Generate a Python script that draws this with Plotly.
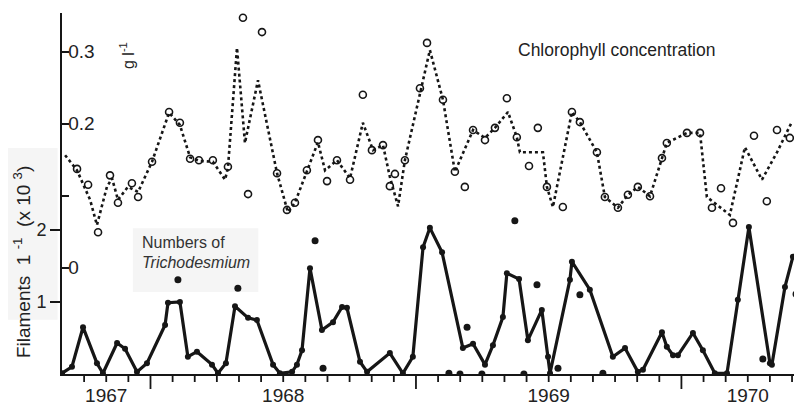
import plotly.graph_objects as go

# ---------------- data (x = months from start of record) ----------------
chl_line_month = [0.14, 0.68, 1.27, 1.58, 2.03, 2.26, 2.53, 2.98, 3.44, 4.07, 4.84, 5.33, 5.79, 6.24,
                  6.82, 7.37, 7.50, 7.91, 8.27, 8.86, 9.72, 10.21, 10.53, 11.07, 11.57, 11.89, 12.43,
                  13.02, 13.60, 14.06, 14.51, 14.82, 14.96, 15.19, 15.50, 16.63, 17.22, 17.76, 18.58,
                  19.12, 19.57, 20.16, 20.56, 20.70, 21.74, 21.92, 22.19, 23.05, 23.41, 24.18, 24.54,
                  25.13, 25.58, 26.03, 26.58, 27.12, 27.34, 28.25, 28.84, 29.15, 30.19, 30.87, 31.64,
                  32.32, 32.99]
chl_line_value = [0.156, 0.135, 0.094, 0.059, 0.112, 0.124, 0.094, 0.112, 0.105, 0.147, 0.215, 0.198,
                  0.153, 0.148, 0.147, 0.122, 0.138, 0.305, 0.173, 0.260, 0.131, 0.077, 0.090, 0.135,
                  0.174, 0.135, 0.149, 0.124, 0.201, 0.163, 0.170, 0.126, 0.110, 0.085, 0.149, 0.302,
                  0.233, 0.133, 0.191, 0.180, 0.194, 0.216, 0.181, 0.160, 0.160, 0.112, 0.084, 0.216,
                  0.202, 0.160, 0.098, 0.083, 0.101, 0.112, 0.099, 0.152, 0.173, 0.187, 0.187, 0.098,
                  0.073, 0.167, 0.122, 0.160, 0.202]

chl_obs_month = [0.68, 1.18, 1.63, 2.17, 2.53, 3.16, 3.44, 4.07, 4.84, 5.33, 5.79, 6.19, 6.82, 7.50,
                 8.18, 8.41, 9.04, 9.72, 10.17, 10.53, 11.07, 11.57, 11.98, 12.43, 13.02, 13.60, 14.01,
                 14.51, 14.82, 15.05, 15.50, 16.18, 16.50, 17.22, 17.76, 18.21, 18.58, 19.12, 19.57,
                 20.11, 20.56, 21.11, 21.51, 21.92, 22.64, 23.05, 23.41, 24.18, 24.54, 25.13, 25.58,
                 26.03, 26.58, 27.12, 27.34, 28.25, 28.84, 29.38, 29.79, 30.33, 31.28, 31.86, 32.32,
                 32.90, 33.31]
chl_obs_value = [0.137, 0.115, 0.049, 0.128, 0.090, 0.117, 0.098, 0.147, 0.216, 0.201, 0.151, 0.149,
                 0.149, 0.140, 0.347, 0.102, 0.327, 0.131, 0.080, 0.090, 0.135, 0.177, 0.120, 0.149,
                 0.122, 0.240, 0.163, 0.170, 0.113, 0.130, 0.149, 0.249, 0.312, 0.233, 0.133, 0.112,
                 0.191, 0.177, 0.194, 0.235, 0.181, 0.141, 0.194, 0.112, 0.084, 0.216, 0.202, 0.160,
                 0.098, 0.083, 0.101, 0.112, 0.099, 0.152, 0.173, 0.187, 0.187, 0.083, 0.110, 0.062,
                 0.183, 0.092, 0.191, 0.180, 0.228]

tri_line_month = [0.00, 0.45, 0.95, 1.58, 1.85, 2.49, 2.85, 3.39, 3.84, 4.66, 4.79, 5.33, 5.69, 6.10,
                  6.78, 7.05, 7.41, 7.82, 8.41, 8.81, 9.54, 9.85, 10.40, 10.62, 10.85, 11.21, 11.75,
                  12.25, 12.66, 12.88, 13.47, 13.79, 14.82, 15.41, 15.86, 16.32, 16.63, 17.18, 18.12,
                  18.58, 19.12, 19.48, 19.93, 20.11, 20.66, 21.06, 21.69, 21.97, 22.06, 22.96, 23.05,
                  23.86, 24.90, 25.45, 26.03, 26.26, 27.12, 27.34, 27.62, 27.84, 28.52, 28.97, 29.51,
                  30.06, 30.55, 31.05, 32.00, 32.09, 32.68, 33.04]
tri_line_value = [0.01, 0.10, 0.65, 0.15, 0.01, 0.43, 0.35, 0.03, 0.15, 0.68, 0.99, 1.00, 0.24, 0.31,
                  0.13, 0.01, 0.15, 0.94, 0.78, 0.75, 0.13, 0.01, 0.03, 0.13, 0.33, 1.47, 0.61, 0.72,
                  0.93, 0.92, 0.17, 0.03, 0.29, 0.01, 0.24, 1.76, 2.03, 1.69, 0.36, 0.42, 0.13, 0.40,
                  0.79, 1.40, 1.32, 0.47, 0.89, 0.24, 0.01, 1.31, 1.56, 1.17, 0.24, 0.36, 0.03, 0.06,
                  0.58, 0.38, 0.26, 0.26, 0.57, 0.33, 0.01, 0.01, 1.03, 2.04, 0.15, 0.13, 1.21, 1.63]

tri_obs_month = [5.24, 7.95, 11.44, 11.80, 17.49, 17.99, 18.31, 18.98, 20.47, 20.88, 21.47, 22.42,
                 23.41, 24.45, 31.68, 33.18]
tri_obs_value = [1.31, 1.19, 1.85, 0.08, 0.01, 0.00, 0.65, 0.00, 2.13, 0.00, 1.24, 0.08, 1.10, 0.01,
                 0.21, 1.11]

month_ticks = list(range(1, 34))
year_tick_month = [2, 10, 22, 31]
year_tick_label = ["1967", "1968", "1969", "1970"]
long_tick_month = [4, 16, 28]

tri_ticks = [1, 2]
chl_ticks = [0, 0.1, 0.2, 0.3]
chl_tick_label = ["0", "", "0.2", "0.3"]

# ---------------- figure ----------------
INK = "#161616"
FONT = "Liberation Sans, Arial, sans-serif"
PLOT_H = 361        # plot-area height in px
PX_PER_UNIT = 72    # filaments axis: px per 1 unit (range below gives this)

fig = go.Figure()

fig.add_trace(go.Scatter(x=chl_line_month, y=chl_line_value, mode="lines", xaxis="x", yaxis="y2",
                         line=dict(color=INK, width=2.6, dash="3px,3px"), hoverinfo="skip",
                         showlegend=False))
fig.add_trace(go.Scatter(x=chl_obs_month, y=chl_obs_value, mode="markers", xaxis="x", yaxis="y2",
                         marker=dict(symbol="circle-open", size=7, color=INK, line=dict(width=1.6)),
                         showlegend=False))
fig.add_trace(go.Scatter(x=tri_line_month, y=tri_line_value, mode="lines+markers", xaxis="x", yaxis="y",
                         line=dict(color=INK, width=3.2), marker=dict(size=6, color=INK),
                         showlegend=False))
fig.add_trace(go.Scatter(x=tri_obs_month, y=tri_obs_value, mode="markers", xaxis="x", yaxis="y",
                         marker=dict(size=7, color=INK), showlegend=False))

# monthly axis tick marks hung below the x axis line (long ones at year boundaries)
short_ticks = [m for m in month_ticks if m not in long_tick_month]
fig.add_trace(go.Scatter(x=short_ticks, y=[-4 / PX_PER_UNIT] * len(short_ticks), mode="markers",
                         xaxis="x", yaxis="y", cliponaxis=False, hoverinfo="skip", showlegend=False,
                         marker=dict(symbol="line-ns", size=8, color=INK,
                                     line=dict(color=INK, width=1.8))))
fig.add_trace(go.Scatter(x=long_tick_month, y=[-7.5 / PX_PER_UNIT] * len(long_tick_month),
                         mode="markers", xaxis="x", yaxis="y", cliponaxis=False, hoverinfo="skip",
                         showlegend=False,
                         marker=dict(symbol="line-ns", size=15, color=INK,
                                     line=dict(color=INK, width=1.8))))

xr = [0, 33.36]

tick_shapes = [
    dict(type="line", xref="x", yref="paper", x0=m, x1=m, y0=0,
         y1=-(15 if m in long_tick_month else 8) / PLOT_H,
         line=dict(color=INK, width=1.8), layer="above")
    for m in month_ticks
]

# the page places the figure 8px in from the top-left corner; the sizes below allow for that
fig.update_layout(
    width=794, height=397,
    margin=dict(l=54, r=2, t=5, b=31, autoexpand=False),
    paper_bgcolor="white", plot_bgcolor="white",
    font=dict(family=FONT, color="#222", size=18),
    xaxis=dict(range=xr, tickmode="array", tickvals=year_tick_month, ticktext=year_tick_label,
               ticks="outside", ticklen=7, tickcolor="rgba(0,0,0,0)", showline=True,
               linewidth=1.6, linecolor=INK, showgrid=False, zeroline=False, automargin=False,
               ticklabelstandoff=-4, tickfont=dict(size=19, color="#222")),
    yaxis=dict(range=[0, PLOT_H / PX_PER_UNIT], tickvals=tri_ticks, ticks="outside", ticklen=10,
               tickwidth=1.5, tickcolor=INK, showline=True, linewidth=1.8, linecolor=INK,
               showgrid=False, zeroline=False, automargin=False, tickfont=dict(size=18, color="#222")),
    yaxis2=dict(range=[-0.1479, 0.3535], overlaying="y", side="left", anchor="x",
                tickvals=chl_ticks, ticktext=chl_tick_label, ticks="inside", ticklen=7,
                tickwidth=1.5, tickcolor=INK, ticklabelposition="inside", showline=False,
                showgrid=False, zeroline=False, automargin=False, tickfont=dict(size=19, color="#222")),
    shapes=[
        dict(type="rect", xref="paper", yref="paper", x0=-0.074, x1=-0.006, y0=0.15, y1=0.626,
             fillcolor="#f5f5f5", line=dict(width=0), layer="below"),
        dict(type="rect", xref="paper", yref="paper", x0=0.096, x1=0.266, y0=0.227, y1=0.404,
             fillcolor="#f5f5f5", line=dict(width=0), layer="below"),
    ] + tick_shapes,
    annotations=[
        dict(text="Chlorophyll concentration", xref="paper", yref="paper", x=0.7507, y=0.8975,
             xanchor="center", yanchor="middle", showarrow=False, font=dict(size=17.5, color="#222")),
        dict(text="Numbers of", xref="paper", yref="paper", x=0.1057, y=0.3629,
             xanchor="left", yanchor="middle", showarrow=False, font=dict(size=16, color="#333")),
        dict(text="<i>Trichodesmium</i>", xref="paper", yref="paper", x=0.1057, y=0.3075,
             xanchor="left", yanchor="middle", showarrow=False, font=dict(size=16, color="#333")),
        dict(text="g l<sup>-1</sup>", xref="paper", yref="paper", x=0.0881, y=0.8809,
             xanchor="center", yanchor="middle", showarrow=False, textangle=-90,
             font=dict(size=16, color="#222")),
        dict(text="Filaments  1 <sup>-1</sup>  (x 10 <sup>3</sup>)", xref="paper", yref="paper",
             x=-0.0542, y=0.31, xanchor="center", yanchor="middle", showarrow=False,
             textangle=-90, font=dict(size=19, color="#222")),
    ],
)

fig.write_html("out.html")
